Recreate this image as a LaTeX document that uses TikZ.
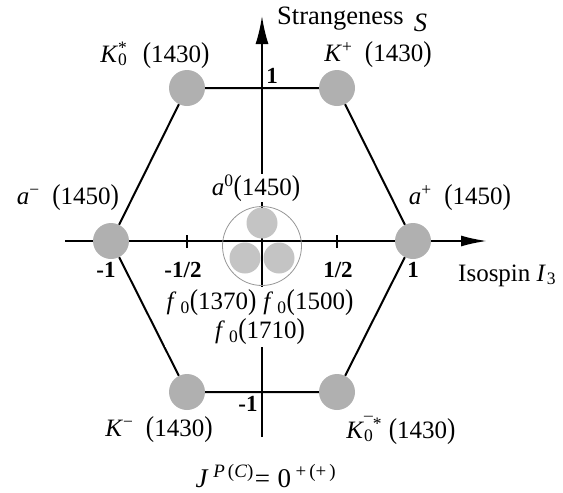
\documentclass[tikz,border=0pt]{standalone}
\usepackage{fontspec}
\setmainfont{Liberation Serif}
\usetikzlibrary{arrows.meta}
\definecolor{mgray}{RGB}{176,176,176}
\definecolor{lgray}{RGB}{196,196,196}
\definecolor{ringgray}{RGB}{150,150,150}
\newcommand\mysupsub[2]{\makebox[0pt][l]{\textsuperscript{#1}}\textsubscript{#2}\hspace{0.45em}}
\newcommand\lpar{\scalebox{1}[1.15]{(}}
\newcommand\rpar{\scalebox{1}[1.15]{)}}
\begin{document}
\begin{tikzpicture}[x=1pt,y=-1pt,
  axis/.style={line width=2pt,black},
  edge/.style={line width=2pt,black},
  meson/.style={circle,fill=mgray,minimum size=36pt,inner sep=0pt},
  cmeson/.style={circle,fill=lgray,minimum size=31pt,inner sep=0pt},
  lbl/.style={font=\fontsize{25}{31}\selectfont,inner sep=1pt},
  axlbl/.style={font=\fontsize{26.5}{28}\selectfont,inner sep=0pt},
  ticklbl/.style={font=\fontsize{23}{24}\selectfont\bfseries,inner sep=0pt}]
\useasboundingbox (0,0) rectangle (563,493);
% axes
\coordinate (xs) at (65,241);
\coordinate (xe) at (487,241);
\coordinate (ys) at (262,437);
\coordinate (ye) at (262,16);
\draw[axis,-{Latex[length=26pt,width=11pt]}] (xs) -- (xe);
\draw[axis,-{Latex[length=28pt,width=13pt]}] (ys) -- (ye);
% ticks
\coordinate (tka) at (187,235); \coordinate (tkb) at (187,248);
\coordinate (tkc) at (337,235); \coordinate (tkd) at (337,248);
\draw[axis] (tka) -- (tkb);
\draw[axis] (tkc) -- (tkd);
% central ring and states
\node[draw=ringgray,line width=0.8pt,circle,minimum size=79pt,inner sep=0pt] (ring) at (262,246) {};
\node[cmeson] (c1) at (262,223) {};
\node[cmeson] (c2) at (245,258) {};
\node[cmeson] (c3) at (279,258) {};
% outer states
\node[meson] (L)  at (111,241) {};
\node[meson] (TL) at (187,88) {};
\node[meson] (TR) at (337,88) {};
\node[meson] (R)  at (413,241) {};
\node[meson] (BR) at (337,392) {};
\node[meson] (BL) at (187,392) {};
\draw[edge] (L) -- (TL) -- (TR) -- (R) -- (BR) -- (BL) -- (L);
% labels
\node[lbl] (lKs) at (155,55) {\textit{K}\mysupsub{*}{0}\,\lpar1430\rpar};
\node[lbl] (lKp) at (378,55) {\textit{K}\textsuperscript{+}\enspace\lpar1430\rpar};
\node[lbl] (lam) at (68,198) {\textit{a}\textsuperscript{−}\enspace\lpar1450\rpar};
\node[lbl] (lap) at (460,198) {\textit{a}\textsuperscript{+}\enspace\lpar1450\rpar};
\node[lbl,fill=white] (la0) at (256,188) {\textit{a}\textsuperscript{0}\lpar1450\rpar};
\node[lbl,fill=white,align=center,inner sep=2pt] (lf) at (260,317) {\textit{f}\,\textsubscript{0}\lpar1370\rpar\;\textit{f}\,\textsubscript{0}\lpar1500\rpar\\[-2pt]\textit{f}\,\textsubscript{0}\lpar1710\rpar\hspace{18pt}};
\node[lbl] (lKm) at (159,430) {\textit{K}\textsuperscript{−}\enspace\lpar1430\rpar};
\node[lbl] (lKb) at (401,430) {\textit{K}\mysupsub{¯*}{0}\,\lpar1430\rpar};
\node[lbl,anchor=base,font=\fontsize{27}{31}\selectfont] (lJ) at (266,487) {\textit{J}\,\textsuperscript{\textit{P}\,(\textit{C})}\kern1pt=\;0\,\textsuperscript{+\,(+\,)}};
% axis titles
\node[axlbl,anchor=base west] (lS) at (277,24) {Strangeness\hspace{10pt}\raisebox{-7pt}{\textit{S}}};
\node[axlbl,anchor=base west,font=\fontsize{25}{28}\selectfont] (lI) at (458,281) {Isospin \textit{I}\kern1pt\textsubscript{3}};
% tick labels
\node[ticklbl] (t1)  at (272,76) {1};
\node[ticklbl] (tm1) at (248,404) {-1};
\node[ticklbl] (tl1) at (106,270) {-1};
\node[ticklbl] (tlh) at (183,270) {-1/2};
\node[ticklbl] (trh) at (338,270) {1/2};
\node[ticklbl] (tr1) at (413,270) {1};
\end{tikzpicture}
\end{document}
